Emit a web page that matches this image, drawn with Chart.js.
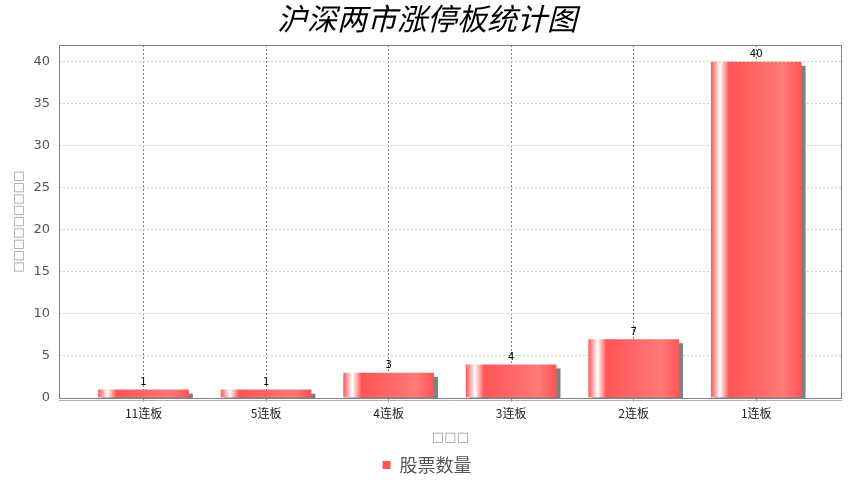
<!DOCTYPE html>
<html>
<head>
<meta charset="utf-8">
<title>沪深两市涨停板统计图</title>
<script src="https://cdn.jsdelivr.net/npm/chart.js@4.4.1/dist/chart.umd.min.js"></script>
<style>
	html, body { margin: 0; padding: 0; background: #fff; }
</style>
</head>
<body>
<canvas id="myCanvas" width="854" height="480"></canvas>
<script>
// chart data
var categories = ['11连板', '5连板', '4连板', '3连板', '2连板', '1连板'];
var counts = [1, 1, 3, 4, 7, 40];
var yTicks = [0, 5, 10, 15, 20, 25, 30, 35, 40];
var seriesName = '股票数量';
var chartTitle = '沪深两市涨停板统计图';
var xTitle = '□□□';
var yTitle = '□□□□□□□□□';

var BASE_RED = '#FF5555';
var BAR_PCT = 0.74;

// horizontal gradient like the java bar painter: red -> white -> red -> lighter -> red
function barFill(context) {
	var chart = context.chart;
	var xs = chart.scales && chart.scales.x;
	if (!xs || context.dataIndex === undefined) return BASE_RED;
	var i = context.dataIndex;
	var x0 = xs.getPixelForValue(i - BAR_PCT / 2);
	var x1 = xs.getPixelForValue(i + BAR_PCT / 2);
	if (!isFinite(x0) || !isFinite(x1) || x1 <= x0) return BASE_RED;
	var g = chart.ctx.createLinearGradient(x0, 0, x1, 0);
	g.addColorStop(0, BASE_RED);
	g.addColorStop(0.1, '#FFFFFF');
	g.addColorStop(0.2, BASE_RED);
	g.addColorStop(0.8, '#FF7979');
	g.addColorStop(1, BASE_RED);
	return g;
}

// grey drop shadow behind each bar
var shadowPlugin = {
	id: 'shadows',
	beforeDatasetsDraw: function(chart) {
		var ctx = chart.ctx;
		var area = chart.chartArea;
		var meta = chart.getDatasetMeta(0);
		ctx.save();
		ctx.beginPath();
		ctx.rect(area.left, area.top, area.right - area.left, area.bottom - area.top);
		ctx.clip();
		ctx.fillStyle = '#808080';
		meta.data.forEach(function(bar) {
			var p = bar.getProps(['x', 'y', 'base', 'width'], true);
			ctx.fillRect(p.x - p.width / 2 + 4, p.y + 4, p.width, p.base - p.y);
		});
		ctx.restore();
	}
};

// plot outline + value labels
var framePlugin = {
	id: 'frame',
	afterDatasetsDraw: function(chart) {
		var ctx = chart.ctx;
		var area = chart.chartArea;
		var meta = chart.getDatasetMeta(0);
		ctx.save();
		ctx.strokeStyle = '#808080';
		ctx.lineWidth = 1;
		ctx.strokeRect(area.left + 0.5, area.top + 0.5, area.right - area.left - 1, area.bottom - area.top);
		ctx.strokeStyle = '#b0b0b0';
		ctx.beginPath();
		ctx.moveTo(area.left, area.bottom + 2.5);
		ctx.lineTo(area.right, area.bottom + 2.5);
		ctx.stroke();

		ctx.font = '10px "DejaVu Sans", sans-serif';
		ctx.fillStyle = '#000';
		ctx.textAlign = 'center';
		ctx.textBaseline = 'bottom';
		meta.data.forEach(function(bar, i) {
			ctx.fillText(String(counts[i]), bar.x, bar.y - 2);
		});
		ctx.restore();
	}
};

var points = counts.map(function(v, i) { return { x: i, y: v }; });

var ctx = document.getElementById('myCanvas').getContext('2d');
var myChart = new Chart(ctx, {
	type: 'bar',
	data: {
		datasets: [{
			label: seriesName,
			data: points,
			backgroundColor: barFill,
			borderWidth: 0,
			barPercentage: BAR_PCT,
			categoryPercentage: 1,
			yAxisID: 'y'
		}]
	},
	options: {
		responsive: false,
		animation: false,
		layout: { padding: { left: 0, right: 0, top: 0, bottom: -4 } },
		plugins: {
			title: {
				display: true,
				text: chartTitle,
				color: '#000',
				font: { family: '"Noto Sans CJK SC"', size: 30, style: 'italic', weight: 'normal', lineHeight: 1.2 },
				padding: { top: 1, bottom: 8 }
			},
			legend: {
				position: 'bottom',
				labels: {
					boxWidth: 8,
					boxHeight: 8,
					padding: 4,
					color: '#555',
					font: { family: '"Noto Sans CJK SC"', size: 18 }
				}
			},
			tooltip: { enabled: false }
		},
		scales: {
			x: {
				type: 'linear',
				min: -0.69,
				max: 5.7,
				offset: false,
				afterBuildTicks: function(scale) {
					scale.ticks = categories.map(function(c, i) { return { value: i }; });
				},
				afterFit: function(scale) { scale.height = 54; },
				grid: {
					offset: false,
					color: '#808080',
					lineWidth: 1,
					drawTicks: true,
					tickLength: 4,
					tickColor: '#999',
					tickBorderDash: []
				},
				border: { display: false, dash: [2, 2] },
				ticks: {
					autoSkip: false,
					maxRotation: 0,
					padding: 4,
					color: '#222',
					font: { family: '"Noto Sans CJK SC"', size: 12 },
					callback: function(value) { return categories[value]; }
				},
				title: {
					display: true,
					text: xTitle,
					color: '#999',
					font: { family: '"DejaVu Sans"', size: 13 },
					padding: { top: 0, bottom: 7 }
				}
			},
			y: {
				type: 'linear',
				position: 'left',
				min: 0,
				max: 42,
				afterBuildTicks: function(scale) {
					scale.ticks = yTicks.map(function(v) { return { value: v }; });
				},
				afterFit: function(scale) { scale.width = 59; },
				grid: {
					color: '#a8eaa8',
					lineWidth: 1,
					drawTicks: false
				},
				border: { display: false, dash: [2, 2] },
				ticks: {
					padding: 9,
					color: '#555',
					font: { family: '"DejaVu Sans"', size: 13 }
				},
				title: {
					display: true,
					text: yTitle,
					color: '#999',
					font: { family: '"DejaVu Sans"', size: 12 },
					padding: { top: 12, bottom: 0 }
				}
			},
			// empty strip on the right so the plot ends where the reference does
			yRight: {
				type: 'linear',
				position: 'right',
				min: 0,
				max: 42,
				afterFit: function(scale) { scale.width = 12; },
				grid: { display: false },
				border: { display: false },
				ticks: { display: false }
			}
		}
	},
	plugins: [shadowPlugin, framePlugin]
});
</script>
</body>
</html>
